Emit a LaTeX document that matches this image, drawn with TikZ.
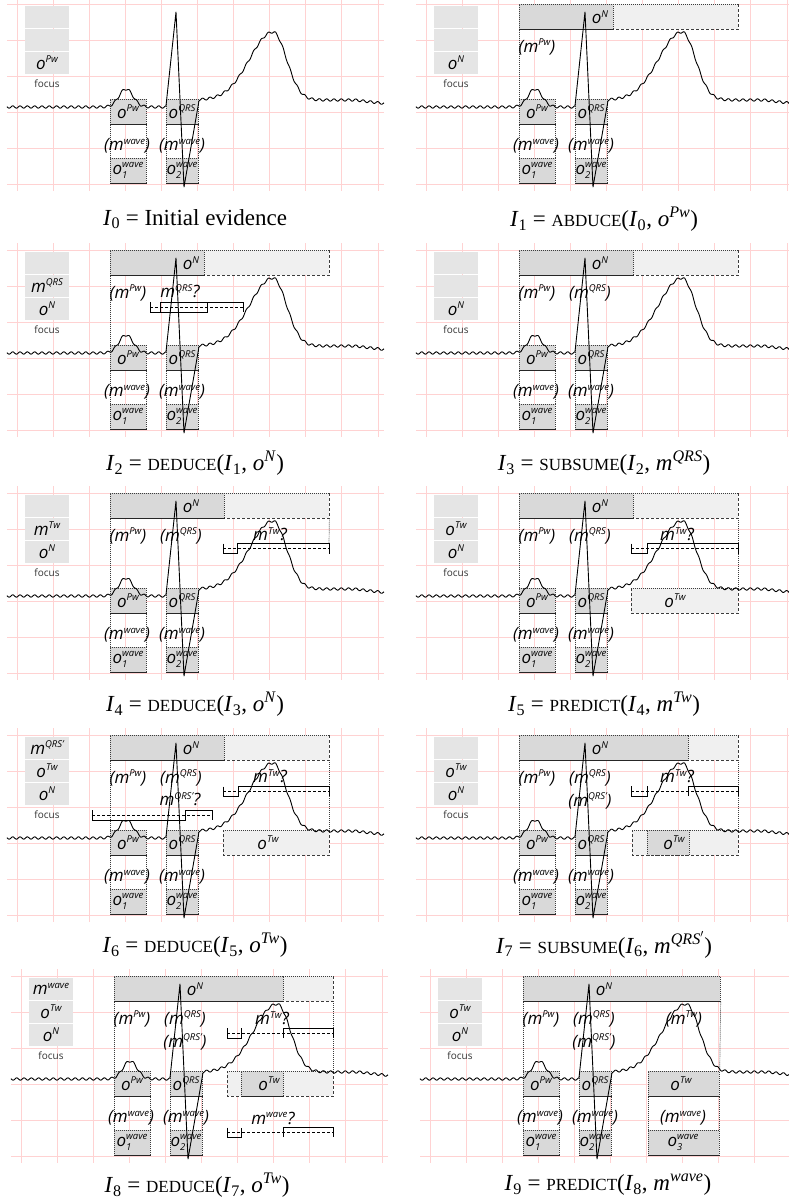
\documentclass[tikz,border=0pt]{standalone}
\usepackage{fontspec}
\setmainfont{Liberation Serif}
\setsansfont{Open Sans}
\definecolor{gridpink}{RGB}{255,210,210}
\definecolor{obsdark}{RGB}{217,217,217}
\definecolor{obslight}{RGB}{240,240,240}
\definecolor{focusgray}{RGB}{229,229,229}
\definecolor{edgegray}{RGB}{60,60,60}

% label scripts (sans italic labels)
\newcommand\lsup[1]{\raisebox{6.5pt}{\fontsize{9.5}{10}\selectfont #1}}
\newcommand\lsub[1]{\raisebox{-3.8pt}{\fontsize{9.5}{10}\selectfont #1}}
\newcommand\lo[2]{#1\lsup{#2}}
\newcommand\supsub[3]{#1\sbox0{\lsup{#2}}\sbox2{\lsub{#3}}\ifdim\wd0>\wd2 \rlap{\usebox2}\usebox0\else\rlap{\usebox0}\usebox2\fi}
% caption pieces
\newcommand\capI[1]{\textit{I}\textsubscript{#1}}
\newcommand\opname[1]{{\fontsize{17}{17}\selectfont #1}}
\newcommand\cobs[2]{\textit{#1}\textsuperscript{\textit{#2}}}

\tikzset{
  declare function={
    pwv(\t)=107-18*exp(-min(((\t-126)/10)*((\t-126)/10),9));
    twsig(\t)=(\t<273)?33:19;
    twv(\t)=100+((\t>355)?(\t-355)*0.12:0)-68*exp(-min(((\t-273)/twsig(\t))*((\t-273)/twsig(\t)),9));
    wg(\t)=1.2*sin(mod(\t,7.3)*49.315);
  },
  gridln/.style={draw=gridpink, line width=1pt},
  ecgln/.style={draw=black, line width=0.9pt, line join=round},
  obsbox/.style={draw=edgegray, fill=obsdark, line width=0.7pt, dash pattern=on 1pt off 1pt, inner sep=0pt, minimum height=25pt, anchor=north west},
  estbox/.style={fill=obslight, inner sep=0pt, minimum height=25pt, anchor=north west},
  dotln/.style={draw=edgegray, line width=0.7pt, dash pattern=on 1pt off 1pt},
  dashln/.style={draw=edgegray, line width=0.7pt, dash pattern=on 3pt off 2pt},
  baseln/.style={draw=black!85, line width=1pt},
  lbl/.style={font=\sffamily\itshape\fontsize{17}{19}\selectfont, inner sep=0pt},
  focuslbl/.style={font=\sffamily\fontsize{10}{12}\selectfont, text=black!80, inner sep=0pt},
  cellbox/.style={fill=focusgray, minimum width=44pt, minimum height=21.5pt, inner sep=0pt},
  captxt/.style={font=\fontsize{23}{26}\selectfont, inner sep=0pt},
  hypln/.style={draw=black, line width=0.8pt},
  hypdash/.style={draw=black, line width=0.8pt, dash pattern=on 3pt off 2pt},
}

\newcommand\obsnode[4]{%
  \node[obsbox, minimum width=#4] (#1) at (#2,#3) {};
  \draw[baseln] (#1.south west) -- (#1.south east);
}
\newcommand\panelbase[4]{%
  \foreach \gy in {4,40,76,112,148,184} {\draw[gridln] (7,\gy) -- (384,\gy);}
  \foreach \gi in {0,...,10} {\draw[gridln] ({17+36.1*\gi},-3) -- ({17+36.1*\gi},191);}
  \node[cellbox, lbl] (#1-f1) at (47,16.75) {#2};
  \node[cellbox, lbl] (#1-f2) at (47,39.75) {#3};
  \node[cellbox, lbl] (#1-f3) at (47,62.75) {#4};
  \node[focuslbl] (#1-focus) at (47,84) {focus};
  \obsnode{#1-opw}{110}{99}{36}
  \obsnode{#1-oqrs}{166}{99}{32}
  \obsnode{#1-ow1}{110}{158}{36}
  \obsnode{#1-ow2}{166}{158}{32}
  \draw[dotln] (#1-opw.south west) -- (#1-ow1.north west);
  \draw[dotln] (#1-opw.south east) -- (#1-ow1.north east);
  \draw[dotln] (#1-oqrs.south west) -- (#1-ow2.north west);
  \draw[dotln] (#1-oqrs.south east) -- (#1-ow2.north east);
  \node[lbl] (#1-lpw) at (128,111.5) {\lo{o}{Pw}};
  \node[lbl] (#1-lqrs) at (182,111.5) {\lo{o}{QRS}};
  \node[lbl] (#1-lw1) at (128,170.5) {\supsub{o}{wave}{1}};
  \node[lbl] (#1-lw2) at (182,170.5) {\supsub{o}{wave}{2}};
  \node[lbl] (#1-mw1) at (127,146) {(\lo{m}{wave})};
  \node[lbl] (#1-mw2) at (182,146) {(\lo{m}{wave})};
}
\newcommand\onbox[2]{%
  \node[estbox, minimum width={329-#2}] (#1-onl) at (#2,4) {};
  \draw[dotln] (#1-onl.north west) -- (#1-onl.north east);
  \draw[dashln] (#1-onl.north east) -- (#1-onl.south east) -- (#1-onl.south west);
  \obsnode{#1-on}{110}{4}{#2-110}
  \node[lbl] (#1-lon) at (191,17) {\lo{o}{N}};
  \draw[dotln] (#1-on.south west) -- (#1-opw.north west);
}
\newcommand\hypglyph[6]{%
  \draw[hypdash] (#1,{(#5+#6)/2}) -- (#4,{(#5+#6)/2});
  \draw[hypln] (#1,#5) -- (#1,#6) -- (#2,#6) -- (#2,#5);
  \draw[hypln] (#3,#6) -- (#3,#5) -- (#4,#5) -- (#4,#6);
}
\newcommand\otwlight[3]{%
  \node[estbox, minimum width={#3-#2}] (#1-otw) at (#2,99) {};
  \draw[dotln] (#1-otw.north west) -- (#1-otw.north east);
  \draw[dashln] (#1-otw.north east) -- (#1-otw.south east) -- (#1-otw.south west) -- (#1-otw.north west);
}
\newcommand\ecg{%
  \draw[ecgln] plot[domain=7:166, samples=160, variable=\t] (\t,{pwv(\t)+wg(\t)})
     -- (176,12) -- (184,187) -- (199,{twv(199)+wg(199)})
     -- plot[domain=199:384, samples=186, variable=\t] (\t,{twv(\t)+wg(\t)});
}

\begin{document}
\begin{tikzpicture}[x=1pt,y=-1pt]
\useasboundingbox[fill=white] (0,0) rectangle (788,1203);

% I0
\begin{scope}[shift={(0,0)}]
  \panelbase{a}{}{}{\lo{o}{Pw}}
  \ecg
\end{scope}
% I1
\begin{scope}[shift={(409,0)}]
  \panelbase{b}{}{}{\lo{o}{N}}
  \onbox{b}{204}
  \node[lbl] (b-mpw) at (128,47) {(\lo{m}{Pw})};
  \ecg
\end{scope}
% I2
\begin{scope}[shift={(0,246)}]
  \panelbase{c}{}{\lo{m}{QRS}}{\lo{o}{N}}
  \onbox{c}{204}
  \node[lbl] (c-mpw) at (128,47) {(\lo{m}{Pw})};
  \hypglyph{150}{207}{160}{243}{56}{66}
  \node[lbl] (c-hq) at (180,45) {\lo{m}{QRS}?};
  \ecg
\end{scope}
% I3
\begin{scope}[shift={(409,246)}]
  \panelbase{d}{}{}{\lo{o}{N}}
  \onbox{d}{224}
  \node[lbl] (d-mpw) at (128,47) {(\lo{m}{Pw})};
  \node[lbl] (d-mqrs) at (181,47) {(\lo{m}{QRS})};
  \ecg
\end{scope}
% I4
\begin{scope}[shift={(0,489)}]
  \panelbase{e}{}{\lo{m}{Tw}}{\lo{o}{N}}
  \onbox{e}{224}
  \node[lbl] (e-mpw) at (128,47) {(\lo{m}{Pw})};
  \node[lbl] (e-mqrs) at (181,47) {(\lo{m}{QRS})};
  \coordinate (e-htop) at (329,54.5);
  \draw[dotln] (e-onl.south east) -- (e-htop);
  \hypglyph{223}{237}{237}{329}{54.5}{64.5}
  \node[lbl] (e-ht) at (270,45) {\lo{m}{Tw}?};
  \ecg
\end{scope}
% I5
\begin{scope}[shift={(409,489)}]
  \panelbase{f}{}{\lo{o}{Tw}}{\lo{o}{N}}
  \onbox{f}{224}
  \node[lbl] (f-mpw) at (128,47) {(\lo{m}{Pw})};
  \node[lbl] (f-mqrs) at (181,47) {(\lo{m}{QRS})};
  \otwlight{f}{222}{329}
  \node[lbl] (f-ltw) at (266,111.5) {\lo{o}{Tw}};
  \draw[dotln] (f-onl.south east) -- (f-otw.north east);
  \hypglyph{222}{238}{238}{329}{54.5}{64.5}
  \node[lbl] (f-ht) at (268,45) {\lo{m}{Tw}?};
  \ecg
\end{scope}
% I6
\begin{scope}[shift={(0,731)}]
  \panelbase{g}{\lo{m}{QRS'}}{\lo{o}{Tw}}{\lo{o}{N}}
  \onbox{g}{224}
  \node[lbl] (g-mpw) at (128,47) {(\lo{m}{Pw})};
  \node[lbl] (g-mqrs) at (181,47) {(\lo{m}{QRS})};
  \otwlight{g}{223}{329}
  \node[lbl] (g-ltw) at (268,111.5) {\lo{o}{Tw}};
  \draw[dotln] (g-onl.south east) -- (g-otw.north east);
  \hypglyph{223}{238}{238}{329}{55.5}{65}
  \node[lbl] (g-ht) at (270,45) {\lo{m}{Tw}?};
  \hypglyph{92}{185}{185}{212}{79}{89}
  \node[lbl] (g-hq) at (180,68) {\lo{m}{QRS'}?};
  \ecg
\end{scope}
% I7
\begin{scope}[shift={(409,731)}]
  \panelbase{h}{}{\lo{o}{Tw}}{\lo{o}{N}}
  \onbox{h}{279}
  \node[lbl] (h-mpw) at (128,47) {(\lo{m}{Pw})};
  \node[lbl] (h-mqrs) at (181,47) {(\lo{m}{QRS})};
  \node[lbl] (h-mqrs2) at (181,70) {(\lo{m}{QRS'})};
  \otwlight{h}{223}{329}
  \node[obsbox, minimum width=42] (h-otwd) at (238,99) {};
  \node[lbl] (h-ltw) at (265,111.5) {\lo{o}{Tw}};
  \draw[dotln] (h-onl.south east) -- (h-otw.north east);
  \hypglyph{222}{238}{279}{329}{55}{65}
  \node[lbl] (h-ht) at (268,45) {\lo{m}{Tw}?};
  \ecg
\end{scope}
% I8
\begin{scope}[shift={(4,972)}]
  \panelbase{i}{\lo{m}{wave}}{\lo{o}{Tw}}{\lo{o}{N}}
  \onbox{i}{279}
  \node[lbl] (i-mpw) at (128,47) {(\lo{m}{Pw})};
  \node[lbl] (i-mqrs) at (181,47) {(\lo{m}{QRS})};
  \node[lbl] (i-mqrs2) at (181,70) {(\lo{m}{QRS'})};
  \otwlight{i}{223}{329}
  \obsnode{i-otwd}{237}{99}{42}
  \node[lbl] (i-ltw) at (265,111.5) {\lo{o}{Tw}};
  \draw[dotln] (i-onl.south east) -- (i-otw.north east);
  \hypglyph{223}{237}{279}{329}{56}{66}
  \node[lbl] (i-ht) at (268,46) {\lo{m}{Tw}?};
  \hypglyph{223}{237}{279}{329}{155.5}{165}
  \node[lbl] (i-hw) at (269,146) {\lo{m}{wave}?};
  \ecg
\end{scope}
% I9
\begin{scope}[shift={(413,972)}]
  \panelbase{j}{}{\lo{o}{Tw}}{\lo{o}{N}}
  \obsnode{j-on}{110}{4}{197}
  \node[lbl] (j-lon) at (191,17) {\lo{o}{N}};
  \draw[dotln] (j-on.south west) -- (j-opw.north west);
  \node[lbl] (j-mpw) at (128,47) {(\lo{m}{Pw})};
  \node[lbl] (j-mqrs) at (181,47) {(\lo{m}{QRS})};
  \node[lbl] (j-mqrs2) at (181,70) {(\lo{m}{QRS'})};
  \node[lbl] (j-mtw) at (271,47) {(\lo{m}{Tw})};
  \obsnode{j-otw}{235}{99}{71}
  \obsnode{j-ow3}{235}{158}{71}
  \node[lbl] (j-ltw) at (268,111.5) {\lo{o}{Tw}};
  \node[lbl] (j-lw3) at (270,170.5) {\supsub{o}{wave}{3}};
  \node[lbl] (j-mw3) at (270,146) {(\lo{m}{wave})};
  \draw[dotln] (j-on.south east) -- (j-otw.north east);
  \draw[dotln] (j-otw.south west) -- (j-ow3.north west);
  \draw[dotln] (j-otw.south east) -- (j-ow3.north east);
  \ecg
\end{scope}

% captions
\node[captxt] (cap0) at (195,219) {\capI{0} = Initial evidence};
\node[captxt] (cap1) at (604,219) {\capI{1} = \opname{ABDUCE}(\capI{0}, \cobs{o}{Pw})};
\node[captxt] (cap2) at (195,463) {\capI{2} = \opname{DEDUCE}(\capI{1}, \cobs{o}{N})};
\node[captxt] (cap3) at (604,463) {\capI{3} = \opname{SUBSUME}(\capI{2}, \cobs{m}{QRS})};
\node[captxt] (cap4) at (195,704) {\capI{4} = \opname{DEDUCE}(\capI{3}, \cobs{o}{N})};
\node[captxt] (cap5) at (604,704) {\capI{5} = \opname{PREDICT}(\capI{4}, \cobs{m}{Tw})};
\node[captxt] (cap6) at (195,945) {\capI{6} = \opname{DEDUCE}(\capI{5}, \cobs{o}{Tw})};
\node[captxt] (cap7) at (604,945) {\capI{7} = \opname{SUBSUME}(\capI{6}, \textit{m}\textsuperscript{\textit{QRS}$'$})};
\node[captxt] (cap8) at (197,1185) {\capI{8} = \opname{DEDUCE}(\capI{7}, \cobs{o}{Tw})};
\node[captxt] (cap9) at (608,1185) {\capI{9} = \opname{PREDICT}(\capI{8}, \cobs{m}{wave})};
\end{tikzpicture}
\end{document}
